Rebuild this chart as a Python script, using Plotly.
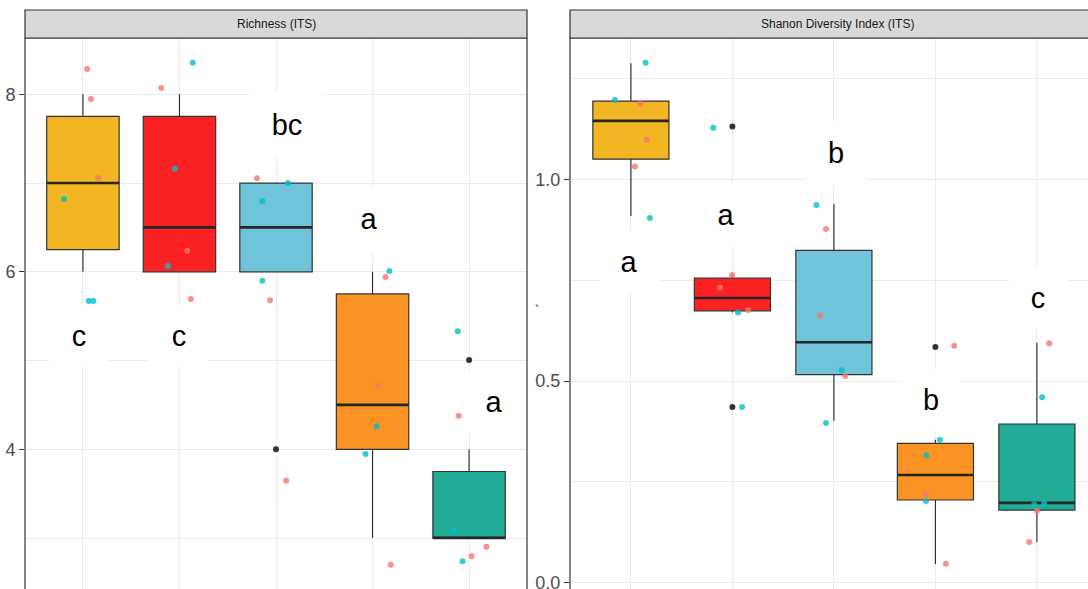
import plotly.graph_objects as go

# ---------------- data ----------------
groups = [1, 2, 3, 4, 5]
box_colors = ["#F2B31C", "#FC1A1C", "#6AC2D8", "#F88F1D", "#1AA994"]

# Richness (ITS) box statistics
rich_q1 = [6.25, 6.0, 6.0, 4.0, 3.0]
rich_median = [7.0, 6.5, 6.5, 4.5, 3.0]
rich_q3 = [7.75, 7.75, 7.0, 5.75, 3.75]
rich_lower = [6.0, 6.0, 6.0, 3.0, 3.0]
rich_upper = [8.0, 8.0, 7.0, 6.0, 4.0]
rich_out_group = [3, 5]
rich_out_value = [4.0, 5.006]

# Richness jittered points
rich_pt_group = [1, 1, 1, 1, 1, 1,
                 2, 2, 2, 2, 2, 2,
                 3, 3, 3, 3, 3, 3,
                 4, 4, 4, 4, 4, 4,
                 5, 5, 5, 5, 5, 5]
rich_pt_jitter = [0.044, 0.083, 0.158, -0.196, 0.061, 0.108,
                  -0.189, 0.080, 0.118, 0.137, -0.046, -0.120,
                  -0.198, -0.062, 0.106, 0.124, -0.141, -0.141,
                  0.135, 0.056, 0.188, 0.174, 0.042, -0.073,
                  -0.107, 0.180, 0.025, -0.117, -0.161, -0.067]
rich_pt_value = [8.285, 7.947, 7.053, 6.820, 5.671, 5.671,
                 8.071, 6.238, 5.693, 8.356, 7.162, 6.065,
                 7.053, 5.680, 3.646, 7.000, 6.794, 5.900,
                 5.941, 4.717, 2.700, 6.010, 4.259, 3.947,
                 4.379, 2.903, 2.794, 5.330, 3.091, 2.738]
rich_pt_series = ["S", "S", "S", "C", "C", "C"] * 5

# Shannon (ITS) box statistics
shan_q1 = [1.050, 0.674, 0.516, 0.205, 0.180]
shan_median = [1.145, 0.706, 0.596, 0.267, 0.198]
shan_q3 = [1.194, 0.755, 0.824, 0.3456, 0.3935]
shan_lower = [0.909, 0.670, 0.4017, 0.0464, 0.100]
shan_upper = [1.288, 0.763, 0.938, 0.3546, 0.595]
shan_out_group = [2, 2, 4]
shan_out_value = [1.131, 0.4357, 0.5844]

shan_pt_group = rich_pt_group
shan_pt_jitter = [0.096, 0.155, 0.039, 0.145, -0.157, 0.187,
                  -0.003, -0.122, 0.155, -0.189, 0.056, 0.096,
                  -0.078, -0.137, 0.112, -0.172, 0.077, -0.078,
                  0.185, -0.093, 0.104, 0.044, -0.089, -0.093,
                  0.121, 0.002, -0.076, 0.051, -0.027, 0.072]
shan_pt_value = [1.188, 1.098, 1.032, 1.289, 1.197, 0.904,
                 0.763, 0.731, 0.676, 1.128, 0.670, 0.4357,
                 0.877, 0.662, 0.5125, 0.9365, 0.527, 0.396,
                 0.5877, 0.219, 0.047, 0.3546, 0.316, 0.2026,
                 0.5935, 0.1785, 0.101, 0.4597, 0.194, 0.197]
shan_pt_series = rich_pt_series

# significance letters
rich_letters = ["c", "c", "bc", "a", "a"]
rich_letter_x = [0.96, 2.0, 3.114, 3.96, 5.257]
rich_letter_y = [5.28, 5.28, 7.654, 6.59, 4.53]
shan_letters = ["a", "a", "b", "b", "c"]
shan_letter_x = [0.983, 1.94, 3.017, 3.96, 5.015]
shan_letter_y = [0.795, 0.912, 1.065, 0.452, 0.706]

strip_titles = ["Richness (ITS)", "Shanon Diversity Index (ITS)"]
series_colors = {"S": "#F8766D", "C": "#00BFC4"}

# ---------------- figure ----------------
W, H = 1088, 589
ML, MT = 25, 38
PW, PH = W - ML, H - MT

fig = go.Figure()


def hex_rgba(h, a):
    h = h.lstrip("#")
    return "rgba(%d,%d,%d,%s)" % (int(h[0:2], 16), int(h[2:4], 16), int(h[4:6], 16), a)


def add_panel(xa, ya, q1, med, q3, lo, up, og, ov, pg, pj, pv, ps):
    for i, g in enumerate(groups):
        fig.add_trace(go.Box(
            x=[g], q1=[q1[i]], median=[med[i]], q3=[q3[i]],
            lowerfence=[lo[i]], upperfence=[up[i]],
            width=0.75, whiskerwidth=0, boxpoints=False,
            fillcolor=hex_rgba(box_colors[i], 0.97),
            line=dict(color="#333333", width=1.2),
            xaxis=xa, yaxis=ya, hoverinfo="skip"))
        fig.add_trace(go.Scatter(
            x=[g - 0.375, g + 0.375], y=[med[i], med[i]], mode="lines",
            line=dict(color="#262626", width=2.6),
            xaxis=xa, yaxis=ya, hoverinfo="skip"))
    for s in ["S", "C"]:
        xs = [pg[k] + pj[k] for k in range(len(pg)) if ps[k] == s]
        ys = [pv[k] for k in range(len(pg)) if ps[k] == s]
        fig.add_trace(go.Scatter(
            x=xs, y=ys, mode="markers",
            marker=dict(color=series_colors[s], size=6, opacity=0.8,
                        line=dict(width=0)),
            xaxis=xa, yaxis=ya, hoverinfo="skip"))
    fig.add_trace(go.Scatter(
        x=og, y=ov, mode="markers",
        marker=dict(color="#333333", size=6, line=dict(width=0)),
        xaxis=xa, yaxis=ya, hoverinfo="skip"))


add_panel("x", "y", rich_q1, rich_median, rich_q3, rich_lower, rich_upper,
          rich_out_group, rich_out_value,
          rich_pt_group, rich_pt_jitter, rich_pt_value, rich_pt_series)
add_panel("x2", "y2", shan_q1, shan_median, shan_q3, shan_lower, shan_upper,
          shan_out_group, shan_out_value,
          shan_pt_group, shan_pt_jitter, shan_pt_value, shan_pt_series)

grid = "#EBEBEB"
tickfont = dict(family="Liberation Sans Narrow, Arial Narrow, Liberation Sans, Arial",
                size=18, color="#4D4D4D")
xcommon = dict(tickvals=groups, showticklabels=False, ticks="", showgrid=True,
               gridcolor=grid, gridwidth=1, zeroline=False, showline=False,
               automargin=False)
ycommon = dict(showgrid=True, gridcolor=grid, gridwidth=1.1, zeroline=False,
               showline=False, ticks="outside", ticklen=5, tickwidth=1,
               tickcolor="#333333", tickfont=tickfont, automargin=False,
               ticklabeloverflow="allow")

left_w = 502
right_x0 = 570 - ML
fig.update_layout(
    width=W, height=H,
    margin=dict(l=ML, r=0, t=MT, b=0, pad=0, autoexpand=False),
    paper_bgcolor="white", plot_bgcolor="white",
    showlegend=False, boxmode="overlay",
    xaxis=dict(domain=[0, left_w / PW], range=[0.4, 5.6], anchor="y", **xcommon),
    yaxis=dict(domain=[0, 1], range=[2.426, 8.634], anchor="x",
               tickvals=[4, 6, 8], ticktext=["4", "6", "8"],
               minor=dict(tickvals=[3, 5, 7], showgrid=True, gridcolor=grid,
                          gridwidth=0.8, ticks=""),
               **ycommon),
    xaxis2=dict(domain=[right_x0 / PW, 1], range=[0.4, 0.4 + (W - 570) / 101.5],
                anchor="y2", **xcommon),
    yaxis2=dict(domain=[0, 1], range=[-0.0156, 1.3504], anchor="x2",
                tickvals=[0, 0.5, 1.0], ticktext=["0.0", "0.5", "1.0"],
                minor=dict(tickvals=[0.25, 0.75, 1.25], showgrid=True,
                           gridcolor=grid, gridwidth=0.8, ticks=""),
                **ycommon),
)

strip_y0 = 1.0
strip_y1 = (H - 10) / PH
shapes = []
annotations = []
strip_cx = [0.5, (837 - 570) / (W - 570)]
for k, (xa, ya) in enumerate([("x", "y"), ("x2", "y2")]):
    x1 = 1 if k == 0 else 1.1
    shapes.append(dict(type="rect", xref=xa + " domain", yref=ya + " domain",
                       x0=0, x1=x1, y0=-0.1, y1=1, line=dict(color="#333333", width=1.2),
                       fillcolor="rgba(0,0,0,0)", layer="above"))
    shapes.append(dict(type="rect", xref=xa + " domain", yref=ya + " domain",
                       x0=0, x1=x1, y0=strip_y0, y1=strip_y1,
                       line=dict(color="#333333", width=1.2), fillcolor="#D9D9D9"))
    annotations.append(dict(text=strip_titles[k], xref=xa + " domain", yref=ya + " domain",
                            x=strip_cx[k], y=(H - 24) / PH, showarrow=False,
                            xanchor="center", yanchor="middle",
                            font=dict(family="Liberation Sans Narrow, Arial Narrow, Liberation Sans, Arial",
                                      size=12, color="#1A1A1A")))

label_font = dict(family="Liberation Sans, Arial", size=29, color="black")
for letters, lx, ly, xa, ya in [(rich_letters, rich_letter_x, rich_letter_y, "x", "y"),
                                (shan_letters, shan_letter_x, shan_letter_y, "x2", "y2")]:
    for t, xv, yv in zip(letters, lx, ly):
        annotations.append(dict(text=t, x=xv, y=yv, xref=xa, yref=ya, showarrow=False,
                                xanchor="center", yanchor="middle",
                                width=74 if len(t) > 1 else 58, height=62,
                                bgcolor="white", borderpad=0, font=label_font))

# small stray mark between panels
annotations.append(dict(text="`", xref="paper", yref="paper",
                        x=(537 - ML) / PW, y=(H - 310) / PH, showarrow=False,
                        font=dict(size=14, color="#444444")))

fig.update_layout(shapes=shapes, annotations=annotations)
fig.write_html(
    "out.html",
    config={"displayModeBar": False},
    post_script="document.body.style.margin='0';document.body.style.overflow='hidden';",
)
